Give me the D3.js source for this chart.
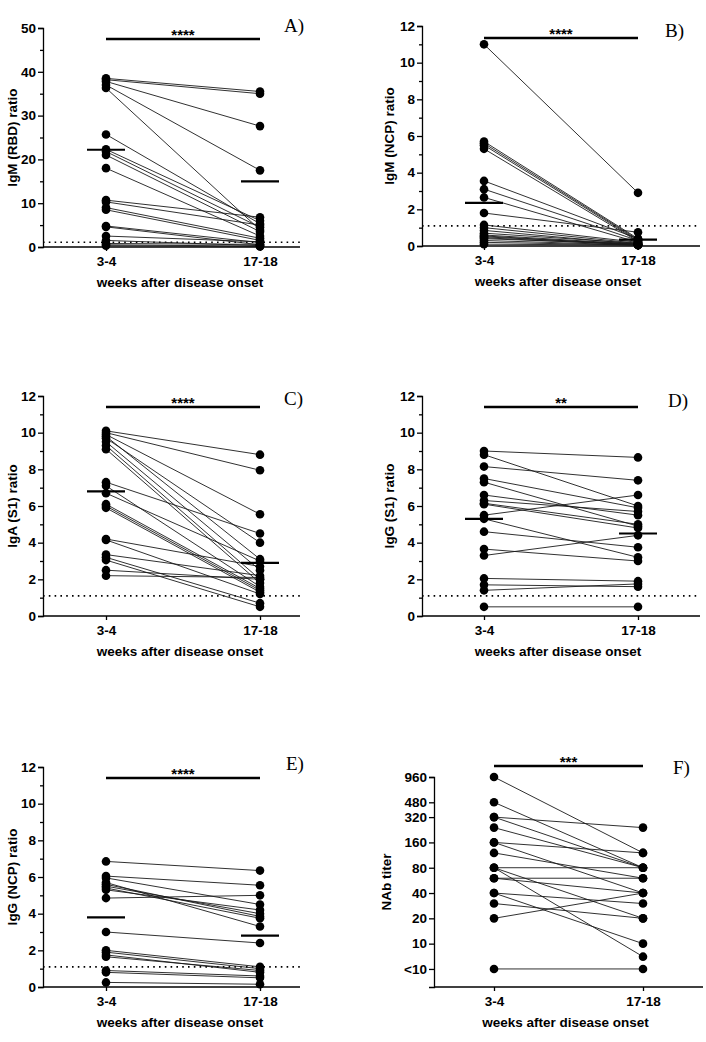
<!DOCTYPE html>
<html lang="en">
<head>
    <meta charset="UTF-8">
    <title>Antibody ratios 3-4 vs 17-18 weeks</title>
    <style>
        body { margin: 0; background: #fff; }
        svg text { font-family: "Liberation Sans", Arial, sans-serif; fill: #000; }
        .tick line, .domain { stroke: #000; stroke-width: 1.3; }
        .label { font-size: 13.5px; font-weight: bold; }
        svg text.letter { font-family: "Liberation Serif", "Times New Roman", serif; font-size: 19px; }
        .pair { stroke: #1a1a1a; stroke-width: 0.9; }
    </style>
</head>
<body>
<script src="https://cdn.jsdelivr.net/npm/d3@7"></script>
<script>

    const weeks = ["3-4", "17-18"]
    const xTitle = "weeks after disease onset"

    // A) IgM (RBD)
    const igmRbdEarly = [38.5, 38.2, 37.8, 37.0, 36.3, 25.7, 22.3, 21.8, 21.0, 18.0, 10.7, 10.3, 9.0, 8.5, 4.8, 4.6, 2.5, 1.5, 0.8, 0.5, 0.3]
    const igmRbdLate  = [35.5, 35.0, 27.6, 17.5, 3.9, 5.3, 6.0, 4.5, 3.5, 2.5, 6.8, 5.0, 2.0, 1.5, 1.0, 0.5, 1.2, 0.3, 0.6, 0.2, 0.1]
    const igmRbdMedian = [22.2, 15.0]

    // B) IgM (NCP)
    const igmNcpEarly = [11.0, 5.7, 5.6, 5.5, 5.3, 3.55, 3.1, 2.65, 1.8, 1.15, 1.0, 0.85, 0.7, 0.6, 0.55, 0.5, 0.45, 0.4, 0.3, 0.2, 0.1]
    const igmNcpLate  = [2.9, 0.4, 0.35, 0.3, 0.25, 0.4, 0.3, 0.2, 0.75, 0.2, 0.15, 0.1, 0.15, 0.1, 0.05, 0.1, 0.05, 0.1, 0.05, 0.05, 0.05]
    const igmNcpMedian = [2.35, 0.35]

    // C) IgA (S1)
    const igaS1Early = [10.1, 10.0, 9.9, 9.8, 9.7, 9.5, 9.3, 9.1, 7.3, 7.1, 6.7, 6.1, 6.0, 5.9, 4.2, 4.15, 3.35, 3.2, 3.05, 2.5, 2.2]
    const igaS1Late  = [8.8, 7.95, 5.55, 3.1, 4.0, 2.5, 2.0, 1.8, 4.5, 1.6, 3.0, 1.5, 1.4, 1.3, 2.7, 1.2, 2.2, 0.7, 0.5, 2.0, 2.1]
    const igaS1Median = [6.8, 2.9]

    // D) IgG (S1)
    const iggS1Early = [9.0, 8.8, 8.15, 7.5, 7.3, 6.6, 6.3, 6.15, 6.1, 5.5, 5.3, 4.6, 3.65, 3.3, 2.05, 1.7, 1.4, 0.5]
    const iggS1Late  = [8.65, 6.0, 7.4, 5.9, 4.9, 5.5, 5.7, 5.0, 4.8, 6.6, 3.2, 3.75, 3.0, 4.4, 1.9, 1.6, 1.75, 0.5]
    const iggS1Median = [5.3, 4.5]

    // E) IgG (NCP)
    const iggNcpEarly = [6.85, 6.05, 5.95, 5.7, 5.6, 5.5, 5.4, 5.3, 4.85, 3.0, 2.0, 1.9, 1.75, 1.65, 0.9, 0.8, 0.25]
    const iggNcpLate  = [6.35, 5.55, 4.5, 3.3, 3.85, 4.0, 3.75, 4.2, 5.0, 2.4, 1.1, 1.0, 0.8, 0.9, 0.6, 0.5, 0.15]
    const iggNcpMedian = [3.8, 2.8]

    // F) NAb titer (5 = below detection, shown as "<10")
    const nabEarly = [960, 480, 320, 320, 240, 160, 160, 120, 80, 80, 80, 60, 60, 40, 40, 30, 20, 5]
    const nabLate  = [120, 80, 240, 80, 80, 120, 40, 60, 80, 20, 7, 60, 40, 30, 10, 20, 40, 5]
    const nabTicks = [5, 10, 20, 40, 80, 160, 320, 480, 960]
    const nabTickLabels = ["<10", "10", "20", "40", "80", "160", "320", "480", "960"]

    const cutoff = 1.1

    let svg = d3.select("body").append("svg")
        .attr("width", 706)
        .attr("height", 1042)

    // d3 axes set their own font attrs on the group, so override them here
    function styleAxis(sel) {
        sel.attr("font-family", "Liberation Sans, Arial, sans-serif")
            .attr("font-size", 13.5)
            .attr("font-weight", "bold")
    }

    function drawPanel(p) {
        let g = svg.append("g")

        let y
        if (p.log) {
            y = d3.scaleLog().base(2).domain([3.05, 960]).range([p.bottom, p.top])
        } else {
            y = d3.scaleLinear().domain([0, p.max]).range([p.bottom, p.top])
        }
        let x = d3.scalePoint().domain(weeks).range([p.cat1, p.cat2])

        // y axis
        let yAxis = d3.axisLeft(y).tickSizeOuter(0).tickSize(5).tickPadding(2)
        if (p.log) {
            yAxis.tickValues(nabTicks).tickFormat((d, i) => nabTickLabels[i])
        } else {
            yAxis.tickValues(d3.range(0, p.max + 0.001, p.step)).tickFormat(d3.format("d"))
        }
        g.append("g")
            .attr("transform", "translate(" + p.axisX + ",0)")
            .call(yAxis)
            .call(styleAxis)

        if (!p.log) {
            let minor = d3.range(p.step / 2, p.max, p.step)
            g.append("g")
                .attr("transform", "translate(" + p.axisX + ",0)")
                .call(d3.axisLeft(y).tickValues(minor).tickSize(3).tickFormat(""))
                .select(".domain").remove()
        }

        // x axis
        g.append("line")
            .attr("x1", p.axisX).attr("x2", p.xEnd)
            .attr("y1", p.bottom).attr("y2", p.bottom)
            .attr("stroke", "#000").attr("stroke-width", 1.3)
        let xg = g.append("g")
            .attr("transform", "translate(0," + p.bottom + ")")
            .call(d3.axisBottom(x).tickSize(4).tickPadding(5))
            .call(styleAxis)
        xg.select(".domain").remove()

        // cutoff line
        if (!p.log) {
            g.append("line")
                .attr("x1", p.axisX).attr("x2", p.xEnd)
                .attr("y1", y(cutoff)).attr("y2", y(cutoff))
                .attr("stroke", "#000")
                .attr("stroke-width", 1.6)
                .attr("stroke-dasharray", "1.6,4.2")
        }

        // paired lines
        let pairs = p.early.map((d, i) => [d, p.late[i]])
        g.selectAll(".pair")
            .data(pairs)
            .enter().append("line")
            .attr("class", "pair")
            .attr("x1", x(weeks[0]))
            .attr("x2", x(weeks[1]))
            .attr("y1", d => y(d[0]))
            .attr("y2", d => y(d[1]))

        // points
        let pts = []
        pairs.forEach(d => {
            pts.push([weeks[0], d[0]])
            pts.push([weeks[1], d[1]])
        })
        g.selectAll(".pt")
            .data(pts)
            .enter().append("circle")
            .attr("cx", d => x(d[0]))
            .attr("cy", d => y(d[1]))
            .attr("r", 4.3)
            .attr("fill", "#000")

        // medians
        if (p.median) {
            g.selectAll(".med")
                .data(p.median)
                .enter().append("line")
                .attr("x1", (d, i) => x(weeks[i]) - 19)
                .attr("x2", (d, i) => x(weeks[i]) + 19)
                .attr("y1", d => y(d))
                .attr("y2", d => y(d))
                .attr("stroke", "#000")
                .attr("stroke-width", 2.2)
        }

        // significance bar
        g.append("line")
            .attr("x1", x(weeks[0])).attr("x2", x(weeks[1]))
            .attr("y1", p.sigY).attr("y2", p.sigY)
            .attr("stroke", "#000").attr("stroke-width", 2.4)
        g.append("text")
            .attr("x", (x(weeks[0]) + x(weeks[1])) / 2)
            .attr("y", p.sigY + 1)
            .attr("text-anchor", "middle")
            .style("font-size", "15px")
            .style("font-weight", "bold")
            .text(p.stars)

        // labels
        g.append("text")
            .attr("class", "label")
            .attr("transform", "translate(" + p.labelX + "," + (p.top + p.bottom) / 2 + ") rotate(-90)")
            .attr("text-anchor", "middle")
            .attr("dy", "0.35em")
            .text(p.yTitle)

        g.append("text")
            .attr("class", "label")
            .attr("x", (p.cat1 + p.cat2) / 2 - 3)
            .attr("y", p.bottom + 40)
            .attr("text-anchor", "middle")
            .text(xTitle)

        g.append("text")
            .attr("class", "letter")
            .attr("x", p.letterX)
            .attr("y", p.letterY)
            .text(p.letter)
    }

    drawPanel({ early: igmRbdEarly, late: igmRbdLate, median: igmRbdMedian, max: 50, step: 10,
        axisX: 43, top: 28, bottom: 247, cat1: 106, cat2: 260, xEnd: 300, sigY: 39, stars: "****",
        labelX: 12, yTitle: "IgM (RBD) ratio", letter: "A)", letterX: 284, letterY: 32 })

    drawPanel({ early: igmNcpEarly, late: igmNcpLate, median: igmNcpMedian, max: 12, step: 2,
        axisX: 422, top: 26, bottom: 246, cat1: 484, cat2: 638, xEnd: 700, sigY: 38, stars: "****",
        labelX: 389, yTitle: "IgM (NCP) ratio", letter: "B)", letterX: 665, letterY: 37 })

    drawPanel({ early: igaS1Early, late: igaS1Late, median: igaS1Median, max: 12, step: 2,
        axisX: 43, top: 396, bottom: 616, cat1: 106, cat2: 260, xEnd: 300, sigY: 407, stars: "****",
        labelX: 12, yTitle: "IgA (S1) ratio", letter: "C)", letterX: 284, letterY: 405 })

    drawPanel({ early: iggS1Early, late: iggS1Late, median: iggS1Median, max: 12, step: 2,
        axisX: 422, top: 396, bottom: 616, cat1: 484, cat2: 638, xEnd: 700, sigY: 407, stars: "**",
        labelX: 389, yTitle: "IgG (S1) ratio", letter: "D)", letterX: 668, letterY: 407 })

    drawPanel({ early: iggNcpEarly, late: iggNcpLate, median: iggNcpMedian, max: 12, step: 2,
        axisX: 43, top: 767, bottom: 987, cat1: 106, cat2: 260, xEnd: 300, sigY: 778, stars: "****",
        labelX: 12, yTitle: "IgG (NCP) ratio", letter: "E)", letterX: 286, letterY: 770 })

    drawPanel({ early: nabEarly, late: nabLate, log: true,
        axisX: 434, top: 777, bottom: 987, cat1: 494, cat2: 643, xEnd: 703, sigY: 766, stars: "***",
        labelX: 386, yTitle: "NAb titer", letter: "F)", letterX: 673, letterY: 774 })

</script>
</body>
</html>
